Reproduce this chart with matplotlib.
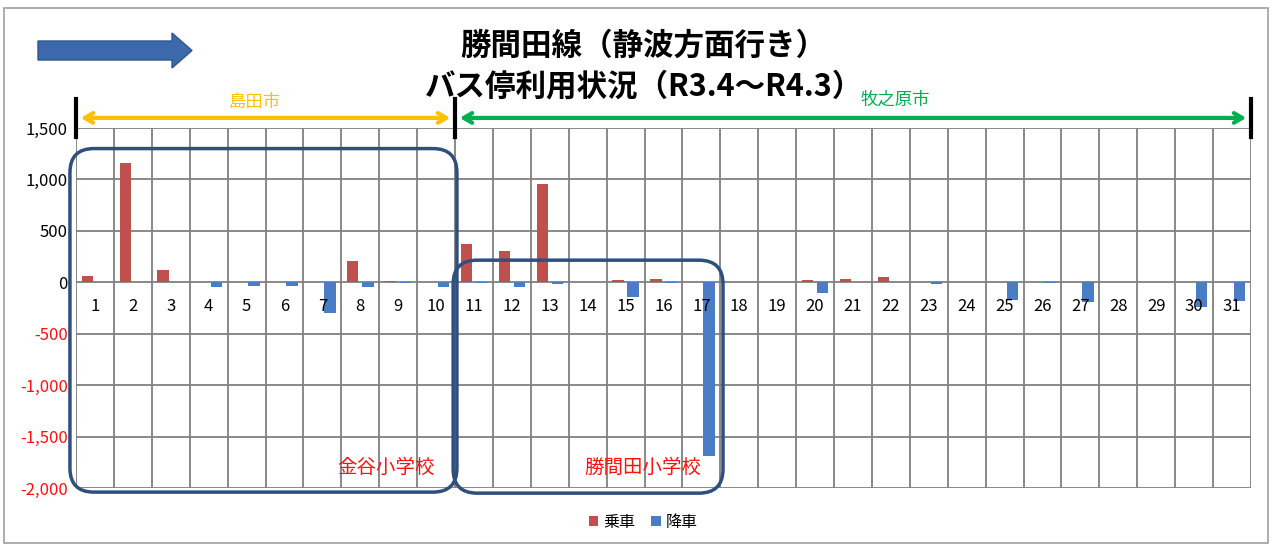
import numpy as np
import matplotlib
matplotlib.use('Agg')
import matplotlib.pyplot as plt
from matplotlib.patches import FancyBboxPatch, FancyArrow, Rectangle
from matplotlib.transforms import IdentityTransform, blended_transform_factory

plt.rcParams['font.family'] = ['Noto Sans CJK JP', 'DejaVu Sans']

stops = list(range(1, 32))
boarding = [60, 1160, 120, 0, 0, 0, 0, 210, 10, 0,
            370, 300, 960, 0, 20, 30, 0, 0, 0, 20,
            30, 50, 0, 0, 0, 0, 0, 0, 0, 0, 0]
alighting = [0, 0, 0, -45, -40, -40, -300, -45, -5, -45,
             -10, -50, -15, 0, -145, -10, -1690, 0, 0, -105,
             0, 0, -20, 0, -175, -10, -190, 0, 0, -240, -185]
yticks = [1500, 1000, 500, 0, -500, -1000, -1500, -2000]
ytick_labels = ['1,500', '1,000', '500', '0', '-500', '-1,000', '-1,500', '-2,000']
title = '勝間田線（静波方面行き）\nバス停利用状況（R3.4～R4.3）'

W, H = 1272, 547
fig = plt.figure(figsize=(W / 100, H / 100), dpi=100)
ax = fig.add_axes([76 / W, 1 - 488 / H, (1251 - 76) / W, (488 - 128) / H])

x = np.array(stops)
ax.bar(x - 0.2, boarding, width=0.3, color='#C0504D', label='乗車', zorder=3)
ax.bar(x + 0.2, alighting, width=0.3, color='#4A7EC4', label='降車', zorder=3)

ax.set_xlim(0.5, 31.5)
ax.set_ylim(-2000, 1500)
ax.set_xticks(np.arange(0.5, 32, 1))
ax.set_xticklabels([])
ax.set_yticks(yticks)
ax.set_yticklabels(ytick_labels, fontsize=12)
for lbl, v in zip(ax.get_yticklabels(), yticks):
    lbl.set_color('black' if v >= 0 else '#FF1010')
ax.tick_params(length=0, pad=6)
ax.grid(True, color='#808080', linewidth=1.3, zorder=1)
for s in ax.spines.values():
    s.set_visible(False)

# category labels sit just under the zero line
for xi in stops:
    ax.text(xi, -240, str(xi), ha='center', va='center', fontsize=12, zorder=4)

# title
fig.text(0.506, 1 - 66 / H, title, ha='center', va='center', fontsize=22,
         fontweight='bold', linespacing=1.38)

# direction arrow
fig.add_artist(FancyArrow(38, H - 50.5, 154, 0, width=19, head_width=35, head_length=20,
                          length_includes_head=True, facecolor='#3C69AC',
                          edgecolor='#2F5590', linewidth=1, transform=IdentityTransform()))

# city range markers
bt = blended_transform_factory(ax.transData, ax.transAxes)
for xb in [0.5, 10.5, 31.5]:
    ax.plot([xb, xb], [0.975, 1.08], color='black', lw=3, transform=bt, clip_on=False, zorder=6)
ax.annotate('', xy=(0.55, 1.028), xytext=(10.45, 1.028), xycoords=bt, textcoords=bt,
            arrowprops=dict(arrowstyle='<->,head_length=0.6,head_width=0.35', color='#FFC000', lw=3))
ax.annotate('', xy=(10.55, 1.028), xytext=(31.45, 1.028), xycoords=bt, textcoords=bt,
            arrowprops=dict(arrowstyle='<->,head_length=0.6,head_width=0.35', color='#00B050', lw=3))
ax.text(5.2, 1.072, '島田市', transform=bt, ha='center', va='center', color='#FFC000', fontsize=12.5)
ax.text(22.1, 1.078, '牧之原市', transform=bt, ha='center', va='center', color='#00B050', fontsize=12.5)

# school zones (rounded boxes drawn in pixel space)
fig.canvas.draw()
for (x0, x1, y0, y1), name in [((0.34, 10.55, -2040, 1300), '金谷小学校'),
                               ((10.45, 17.57, -2050, 215), '勝間田小学校')]:
    (px0, py0), (px1, py1) = ax.transData.transform([(x0, y0), (x1, y1)])
    box = FancyBboxPatch((px0, py0), px1 - px0, py1 - py0,
                         boxstyle='round,pad=0,rounding_size=24', facecolor='none',
                         edgecolor='#2F4F7F', linewidth=2.5, transform=IdentityTransform(),
                         zorder=7)
    fig.add_artist(box)
    ax.text(x1 - 0.58, -1800, name, ha='right', va='center', color='#FF1010', fontsize=14, zorder=8)

fig.legend(loc='center', bbox_to_anchor=(643 / W, 1 - 522 / H), ncol=2, frameon=False,
           fontsize=11.5, handlelength=0.6, handleheight=0.6, columnspacing=1.0, handletextpad=0.3)

fig.add_artist(Rectangle((4 / W, 4 / H), 1264 / W, 535 / H, fill=False,
                         edgecolor='#A0A0A0', linewidth=1.2, transform=fig.transFigure))

fig.savefig('out.png', dpi=100)
